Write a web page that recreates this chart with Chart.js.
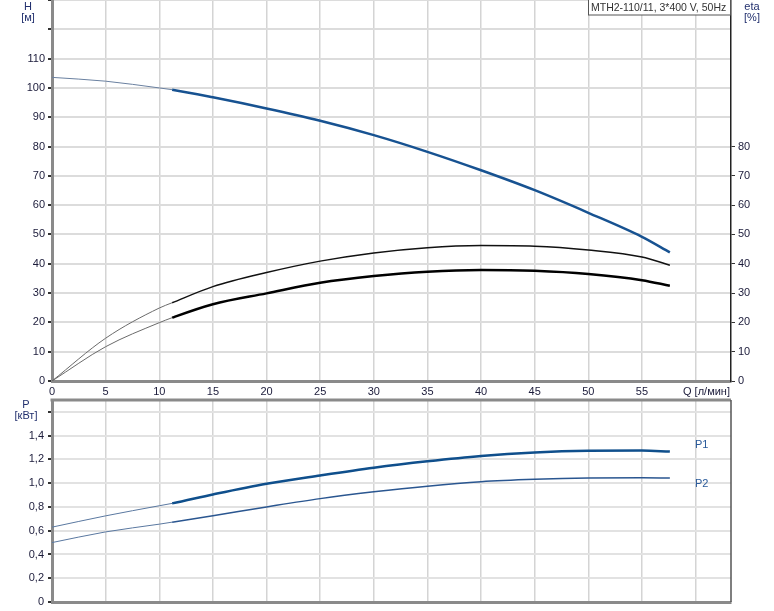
<!DOCTYPE html>
<html>
<head>
<meta charset="utf-8">
<script src="https://cdn.jsdelivr.net/npm/chart.js@4.4.1/dist/chart.umd.min.js"></script>
<style>
  body { margin: 0; background: #fff; }
  canvas { position: absolute; left: 0; }
</style>
</head>
<body>
<canvas id="top-chart" width="774" height="398" style="top:0"></canvas>
<canvas id="bottom-chart" width="774" height="213" style="top:398px"></canvas>
<script>
// Q, л/мин
const flow = [0, 5, 10, 11.2, 15, 20, 25, 30, 35, 40, 45, 50, 55, 57.6];
// напор H, м
const head = [103.6, 102.3, 100.0, 99.4, 96.8, 93.0, 88.8, 83.9, 78.2, 71.9, 65.1, 57.4, 49.2, 43.9];
// КПД, %
const etaUpper = [0, 14.6, 24.9, 26.7, 32.2, 37.0, 40.9, 43.7, 45.5, 46.2, 46.0, 44.7, 42.3, 39.5];
const etaLower = [0, 11.7, 19.9, 21.6, 26.2, 29.9, 33.5, 35.8, 37.3, 37.9, 37.6, 36.5, 34.4, 32.5];
// мощность, кВт
const powerP1 = [0.63, 0.725, 0.81, 0.83, 0.905, 0.995, 1.065, 1.13, 1.184, 1.229, 1.258, 1.272, 1.274, 1.266];
const powerP2 = [0.50, 0.59, 0.655, 0.672, 0.726, 0.80, 0.87, 0.927, 0.975, 1.012, 1.032, 1.043, 1.045, 1.043];

const xTicks = [0, 5, 10, 15, 20, 25, 30, 35, 40, 45, 50, 55];
const workStart = 11.2; // начало рабочей зоны (толстая линия)

const FONT = { family: "'Liberation Sans', Arial, sans-serif", size: 11 };
const TEXT = '#1b1b3a';

function pts(ys) {
    return flow.map((q, i) => ({ x: q, y: ys[i] }));
}

function curve(label, ys, thinColor, thickColor, thinW, thickW, axis) {
    return {
        label: label,
        data: pts(ys),
        yAxisID: axis || 'y',
        borderColor: thickColor,
        borderWidth: thickW,
        pointRadius: 0,
        cubicInterpolationMode: 'monotone',
        segment: {
            borderColor: ctx => ctx.p0.parsed.x >= workStart ? thickColor : thinColor,
            borderWidth: ctx => ctx.p0.parsed.x >= workStart ? thickW : thinW
        }
    };
}

// убираем отступы под подписи крайних делений
function noPad(s) {
    s.paddingTop = 0;
    s.paddingBottom = 0;
    s.paddingLeft = 0;
    s.paddingRight = 0;
}

const xScale = (showLabels) => ({
    type: 'linear',
    min: 0,
    max: 63.3,
    ticks: {
        display: showLabels,
        stepSize: 5,
        includeBounds: false,
        autoSkip: false,
        maxRotation: 0,
        padding: 4,
        color: TEXT,
        font: FONT,
        callback: v => xTicks.includes(v) ? v : ''
    },
    grid: { color: '#d4d4d4', lineWidth: 1.5, drawTicks: false },
    border: { color: '#8a8a8a', width: 3 },
    afterFit: s => { s.height = showLabels ? 17 : 9; noPad(s); }
});

// текстовые подписи
const topLabels = {
    id: 'topLabels',
    afterDraw(chart) {
        const c = chart.ctx;
        c.save();
        c.font = "11px 'Liberation Sans', Arial, sans-serif";
        c.fillStyle = '#22306e';
        c.textAlign = 'center';
        c.textBaseline = 'middle';
        c.fillText('H', 28, 7);
        c.fillText('[м]', 28, 18);
        c.fillText('eta', 752, 7);
        c.fillText('[%]', 752, 18);
        c.textAlign = 'left';
        c.fillStyle = TEXT;
        c.fillText('Q [л/мин]', 683, 392);
        // рамка с названием насоса
        c.fillStyle = '#fff';
        c.fillRect(588, 0, 143, 15);
        c.strokeStyle = '#555';
        c.lineWidth = 1;
        c.strokeRect(588.5, -1, 142, 16);
        c.fillStyle = '#333';
        c.font = "10.5px 'Liberation Sans', Arial, sans-serif";
        c.fillText('MTH2-110/11, 3*400 V, 50Hz', 591, 8);
        c.restore();
    }
};

const bottomLabels = {
    id: 'bottomLabels',
    afterDraw(chart) {
        const c = chart.ctx;
        const a = chart.chartArea;
        c.save();
        c.strokeStyle = '#8a8a8a';
        c.lineWidth = 3;
        c.beginPath();
        c.moveTo(a.left - 1.5, a.top);
        c.lineTo(a.right, a.top);
        c.stroke();
        c.strokeStyle = '#555';
        c.lineWidth = 1.5;
        c.beginPath();
        c.moveTo(a.right, a.top);
        c.lineTo(a.right, a.bottom);
        c.stroke();
        c.font = "11px 'Liberation Sans', Arial, sans-serif";
        c.fillStyle = '#22306e';
        c.textAlign = 'center';
        c.textBaseline = 'middle';
        c.fillText('P', 26, 7);
        c.fillText('[кВт]', 26, 18);
        c.textAlign = 'left';
        c.fillStyle = '#2a5a9a';
        c.fillText('P1', 695, 47);
        c.fillText('P2', 695, 86);
        c.restore();
    }
};

new Chart(document.getElementById('top-chart'), {
    type: 'line',
    data: {
        datasets: [
            curve('H', head, '#6a80a0', '#175291', 1, 2.5),
            curve('eta', etaUpper, '#6a6a6a', '#111', 1, 1.5),
            curve('eta2', etaLower, '#6a6a6a', '#000', 1, 2.5)
        ]
    },
    options: {
        responsive: false,
        devicePixelRatio: 1,
        animation: false,
        layout: { padding: 0 },
        plugins: { legend: { display: false }, tooltip: { enabled: false } },
        scales: {
            x: xScale(true),
            y: {
                min: 0,
                max: 130,
                ticks: {
                    stepSize: 10,
                    padding: 3,
                    color: TEXT,
                    font: FONT,
                    callback: v => v <= 110 ? v : ''
                },
                grid: { color: '#dcdcdc', lineWidth: 2, tickLength: 4, tickColor: '#333' },
                border: { color: '#8a8a8a', width: 3 },
                afterFit: s => { s.width = 52; noPad(s); }
            },
            y2: {
                position: 'right',
                min: 0,
                max: 130,
                ticks: {
                    stepSize: 10,
                    padding: 3,
                    color: TEXT,
                    font: FONT,
                    callback: v => v <= 80 ? v : ''
                },
                grid: {
                    drawOnChartArea: false,
                    tickLength: 4,
                    tickColor: ctx => (ctx.tick && ctx.tick.value <= 80) ? '#333' : 'rgba(0,0,0,0)'
                },
                border: { color: '#222', width: 1.5 },
                afterFit: s => { s.width = 43; noPad(s); }
            }
        }
    },
    plugins: [topLabels]
});

new Chart(document.getElementById('bottom-chart'), {
    type: 'line',
    data: {
        datasets: [
            curve('P1', powerP1, '#5a78a0', '#0f4f8c', 1, 2.5),
            curve('P2', powerP2, '#5a78a0', '#2a5690', 1, 1.5)
        ]
    },
    options: {
        responsive: false,
        devicePixelRatio: 1,
        animation: false,
        layout: { padding: { top: 2, right: 43, left: 0, bottom: 0 } },
        plugins: { legend: { display: false }, tooltip: { enabled: false } },
        scales: {
            x: xScale(false),
            y: {
                min: 0,
                max: 1.7,
                ticks: {
                    stepSize: 0.2,
                    includeBounds: false,
                    padding: 4,
                    color: TEXT,
                    font: FONT,
                    callback: v => v > 1.45 ? '' : (Math.abs(v) < 1e-9 ? '0' : v.toFixed(1).replace('.', ','))
                },
                grid: { color: '#e2e2e2', lineWidth: 2, tickLength: 4, tickColor: '#333' },
                border: { color: '#8a8a8a', width: 3 },
                afterFit: s => { s.width = 52; noPad(s); }
            }
        }
    },
    plugins: [bottomLabels]
});
</script>
</body>
</html>
